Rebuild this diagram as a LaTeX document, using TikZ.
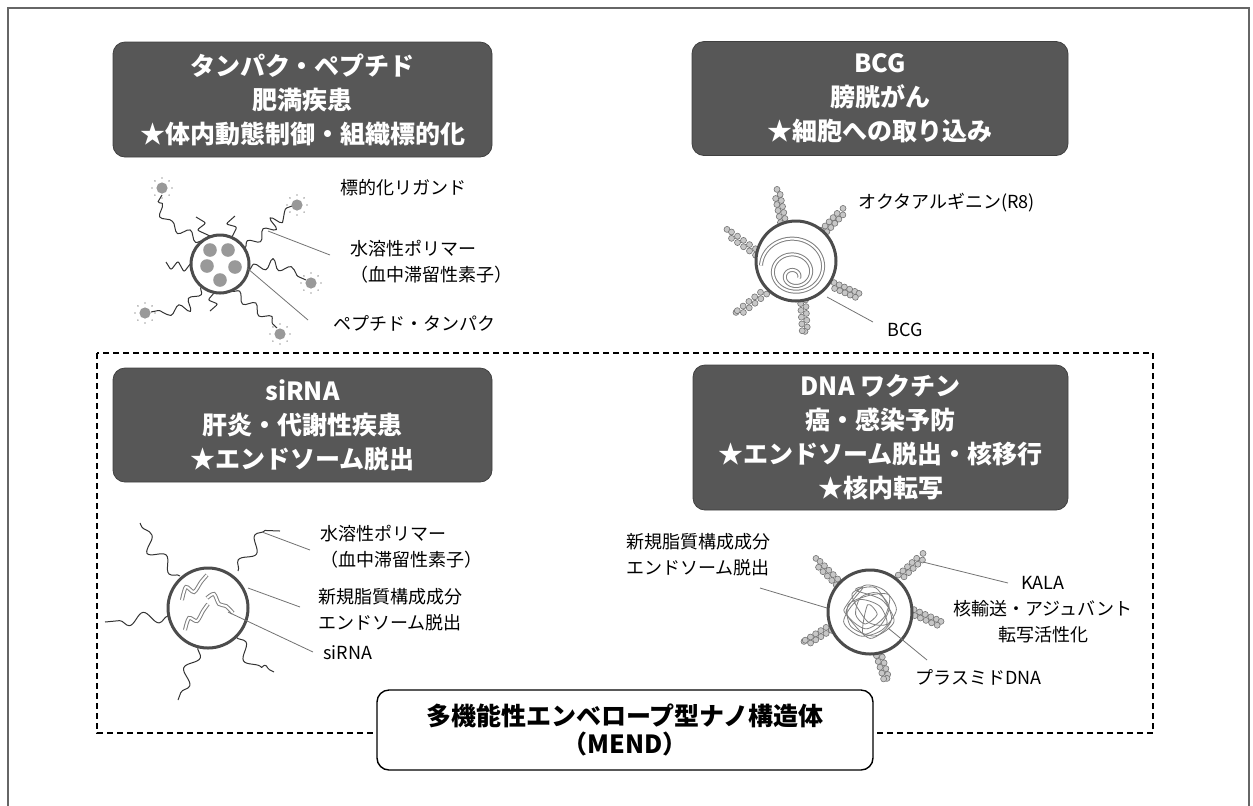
\documentclass[tikz,border=0pt]{standalone}
\usepackage{fontspec}
\setmainfont{Noto Sans CJK JP}
\usepackage{tikz}
\usetikzlibrary{positioning,calc,decorations.pathmorphing}

\tikzset{
	headbox/.style={rounded corners=6pt, fill=black!66, draw=black!75, text=white, align=center, inner sep=0pt,
		font=\fontsize{12.5}{17}\selectfont\bfseries},
	lbl/.style={anchor=west, align=left, inner sep=0pt, font=\fontsize{9}{13}\selectfont},
	lead/.style={draw=black!55, line width=0.4pt},
	membrane/.style={draw=black!70, line width=1.5pt},
	polymer/.style={draw=black!80, line width=0.5pt, line join=round, decorate, decoration={snake, amplitude=2.2pt, segment length=10pt}},
	longpolymer/.style={polymer, decoration={snake, amplitude=3pt, segment length=15pt}},
	zigzag/.style={draw=black!80, line width=0.5pt, rounded corners=1pt},
	tube/.style={draw=black!50, double=white, double distance=1pt, line width=0.5pt},
	bead/.style={draw=black!55, fill=black!22, line width=0.3pt},
}

\newcommand\rchain[2]{%
	\foreach \q in {0,0.2,0.4,0.6,0.8,1}
		\filldraw[bead] ($#1!\q!#2!1.3pt!90:#2$) circle (1.5pt);
	\foreach \q in {0.1,0.3,0.5,0.7,0.9}
		\filldraw[bead] ($#1!\q!#2!1.3pt!-90:#2$) circle (1.5pt);
}
\newcommand\ligand[1]{%
	\fill[black!40] #1 circle (2.8pt);
	\foreach \a in {0,45,...,315}
		\fill[black!35] #1 ++(\a:5pt) circle (0.45pt);
}

\begin{document}
\begin{tikzpicture}[x=0.5pt,y=-0.5pt]
	\useasboundingbox (0,0) rectangle (1253,805);
	\draw[black!60, line width=0.8pt] (8,830) -- (8,8) -- (1249,8) -- (1249,830);
	\draw[dashed, dash pattern=on 3pt off 2pt, line width=0.7pt] (97,353) rectangle (1153,733);

	\node[headbox, minimum width=189.5pt, minimum height=57.5pt] (prot) at (302.5,99.5)
		{タンパク・ペプチド\\肥満疾患\\★体内動態制御・組織標的化};
	\node[headbox, minimum width=188pt, minimum height=57pt] (bcg) at (880,98.5)
		{BCG\\膀胱がん\\★細胞への取り込み};
	\node[headbox, minimum width=189.5pt, minimum height=57pt] (sirna) at (302.5,425)
		{siRNA\\肝炎・代謝性疾患\\★エンドソーム脱出};
	\node[headbox, minimum width=187.5pt, minimum height=72.5pt] (dna) at (880.5,437.5)
		{DNA ワクチン\\癌・感染予防\\★エンドソーム脱出・核移行\\★核内転写};

	\node[draw, fill=white, rounded corners=6pt, line width=0.7pt, minimum width=248pt, minimum height=40pt,
		align=center, font=\fontsize{12.5}{14}\selectfont\bfseries] (mend) at (625,730)
		{多機能性エンベロープ型ナノ構造体\\（MEND）};

	% tanpaku / peptide particle
	\draw[polymer] (203,241) -- (172,226) -- (160,205) -- (162,195);
	\draw[zigzag] (210,236) -- (197,230) -- (206,223) -- (196,217);
	\draw[zigzag] (232,237) -- (237,227) -- (226,224) -- (235,216);
	\draw[polymer] (245,248) -- (266,232) -- (270,214) -- (292,206);
	\draw[polymer] (249,270) -- (270,264) -- (306,280);
	\draw[zigzag] (191,263) -- (184,272) -- (178,261) -- (171,270) -- (166,262);
	\draw[polymer] (201,287) -- (190,304) -- (151,312);
	\draw[zigzag] (214,293) -- (208,300) -- (218,304) -- (210,311);
	\draw[polymer] (232,291) -- (258,310) -- (277,328);
	\ligand{(162,188)}
	\ligand{(297,205)}
	\ligand{(311,283)}
	\ligand{(145,313)}
	\ligand{(280,334)}
	\filldraw[fill=white, membrane] (220,264) circle (14.5pt);
	\foreach \p in {(210,250),(228,250),(207,266),(235,267),(220,280)}
		\fill[black!40] \p circle (3.4pt);

	\node[lbl] (ligand) at (340,188) {標的化リガンド};
	\node[lbl] (poly1) at (350,261.5) {水溶性ポリマー\\（血中滞留性素子）};
	\node[lbl] (pep) at (333,323) {ペプチド・タンパク};
	\coordinate (poly1a) at (268,231);
	\coordinate (poly1b) at (330,255);
	\coordinate (pep1a) at (247,268);
	\coordinate (pep1b) at (308,320);
	\draw[lead] (poly1a) -- (poly1b);
	\draw[lead] (pep1a) -- (pep1b);

	% BCG particle
	\rchain{(783,222)}{(777,192)}
	\rchain{(823,232)}{(843,211)}
	\rchain{(757,253)}{(727,232)}
	\rchain{(833,285)}{(859,296)}
	\rchain{(765,292)}{(736,315)}
	\rchain{(803,300)}{(805,334)}
	\filldraw[fill=white, membrane] (796,261) circle (20pt);
	\draw[tube] plot[domain=0:900, samples=160, smooth]
		({795+(4+\x/30)*cos(\x)}, {278-0.014*\x-(4+\x/30)*0.9*sin(\x)});

	\node[lbl] (r8) at (858,203) {オクタアルギニン(R8)};
	\node[lbl] (bcglbl) at (887,330) {BCG};
	\coordinate (bcga) at (827,297);
	\coordinate (bcgb) at (873,322);
	\draw[lead] (bcga) -- (bcgb);

	% siRNA particle
	\draw[longpolymer] (180,576) -- (152,550) -- (140,523);
	\draw[longpolymer] (238,571) -- (262,535) -- (280,531);
	\draw[longpolymer] (168,616) -- (105,622);
	\draw[longpolymer] (198,647) -- (178,700);
	\draw[longpolymer] (236,637) -- (250,660) -- (274,672);
	\filldraw[fill=white, membrane] (208,608) circle (20pt);
	\draw[tube] plot[smooth] coordinates {(182,600) (186,587) (194,592) (201,582) (207,575)};
	\draw[tube] plot[smooth] coordinates {(207,598) (214,594) (219,604) (226,606) (233,613)};
	\draw[tube] plot[smooth] coordinates {(185,630) (189,618) (197,621) (203,611) (208,604)};

	\node[lbl] (poly3) at (320,546.5) {水溶性ポリマー\\（血中滞留性素子）};
	\node[lbl] (lipid3) at (318,610) {新規脂質構成成分\\ エンドソーム脱出};
	\node[lbl] (sirnalbl) at (323,653) {siRNA};
	\coordinate (poly3a) at (262,532);
	\coordinate (poly3b) at (310,550);
	\coordinate (lipid3a) at (248,588);
	\coordinate (lipid3b) at (300,607);
	\coordinate (sirna3a) at (228,612);
	\coordinate (sirna3b) at (313,652);
	\draw[lead] (poly3a) -- (poly3b);
	\draw[lead] (lipid3a) -- (lipid3b);
	\draw[lead] (sirna3a) -- (sirna3b);

	% DNA particle
	\rchain{(838,583)}{(816,561)}
	\rchain{(900,577)}{(923,556)}
	\rchain{(913,612)}{(941,624)}
	\rchain{(830,628)}{(804,644)}
	\rchain{(878,652)}{(887,681)}
	\filldraw[fill=white, membrane] (870,612) circle (21pt);
	\begin{scope}[shift={(870,612)}, scale=1.2]
		\draw[black!50, line width=0.4pt] plot[smooth cycle] coordinates {(-20,-5) (-5,-22) (12,-18) (22,-2) (10,15) (-8,20)
			(-22,8) (-10,-10) (8,-5) (14,10) (-2,8) (-15,-15) (5,-20) (18,6) (0,22) (-20,2)};
		\draw[black!50, line width=0.4pt] plot[smooth cycle] coordinates {(-12,-18) (10,-10) (20,8) (4,20) (-16,12) (-18,-6)
			(0,-14) (16,-14) (12,4) (-4,14) (-20,0) (-6,-20)};
		\draw[black!50, line width=0.4pt] plot[smooth cycle] coordinates {(-2,-6) (6,2) (-4,10) (-12,2) (-8,-12) (6,-16) (16,-4) (8,12) (-6,18)};
	\end{scope}

	\node[lbl, align=center, anchor=center] (lipid4) at (698,555) {新規脂質構成成分\\エンドソーム脱出};
	\node[lbl, align=center, anchor=center] (kala) at (1043,610) {KALA\\核輸送・アジュバント\\転写活性化};
	\node[lbl] (pdna) at (915,677) {プラスミドDNA};
	\coordinate (lipid4a) at (760,588);
	\coordinate (lipid4b) at (827,608);
	\coordinate (kalaa) at (923,562);
	\coordinate (kalab) at (1008,583);
	\coordinate (pdnaa) at (888,628);
	\coordinate (pdnab) at (927,660);
	\draw[lead] (lipid4a) -- (lipid4b);
	\draw[lead] (kalaa) -- (kalab);
	\draw[lead] (pdnaa) -- (pdnab);
\end{tikzpicture}
\end{document}
